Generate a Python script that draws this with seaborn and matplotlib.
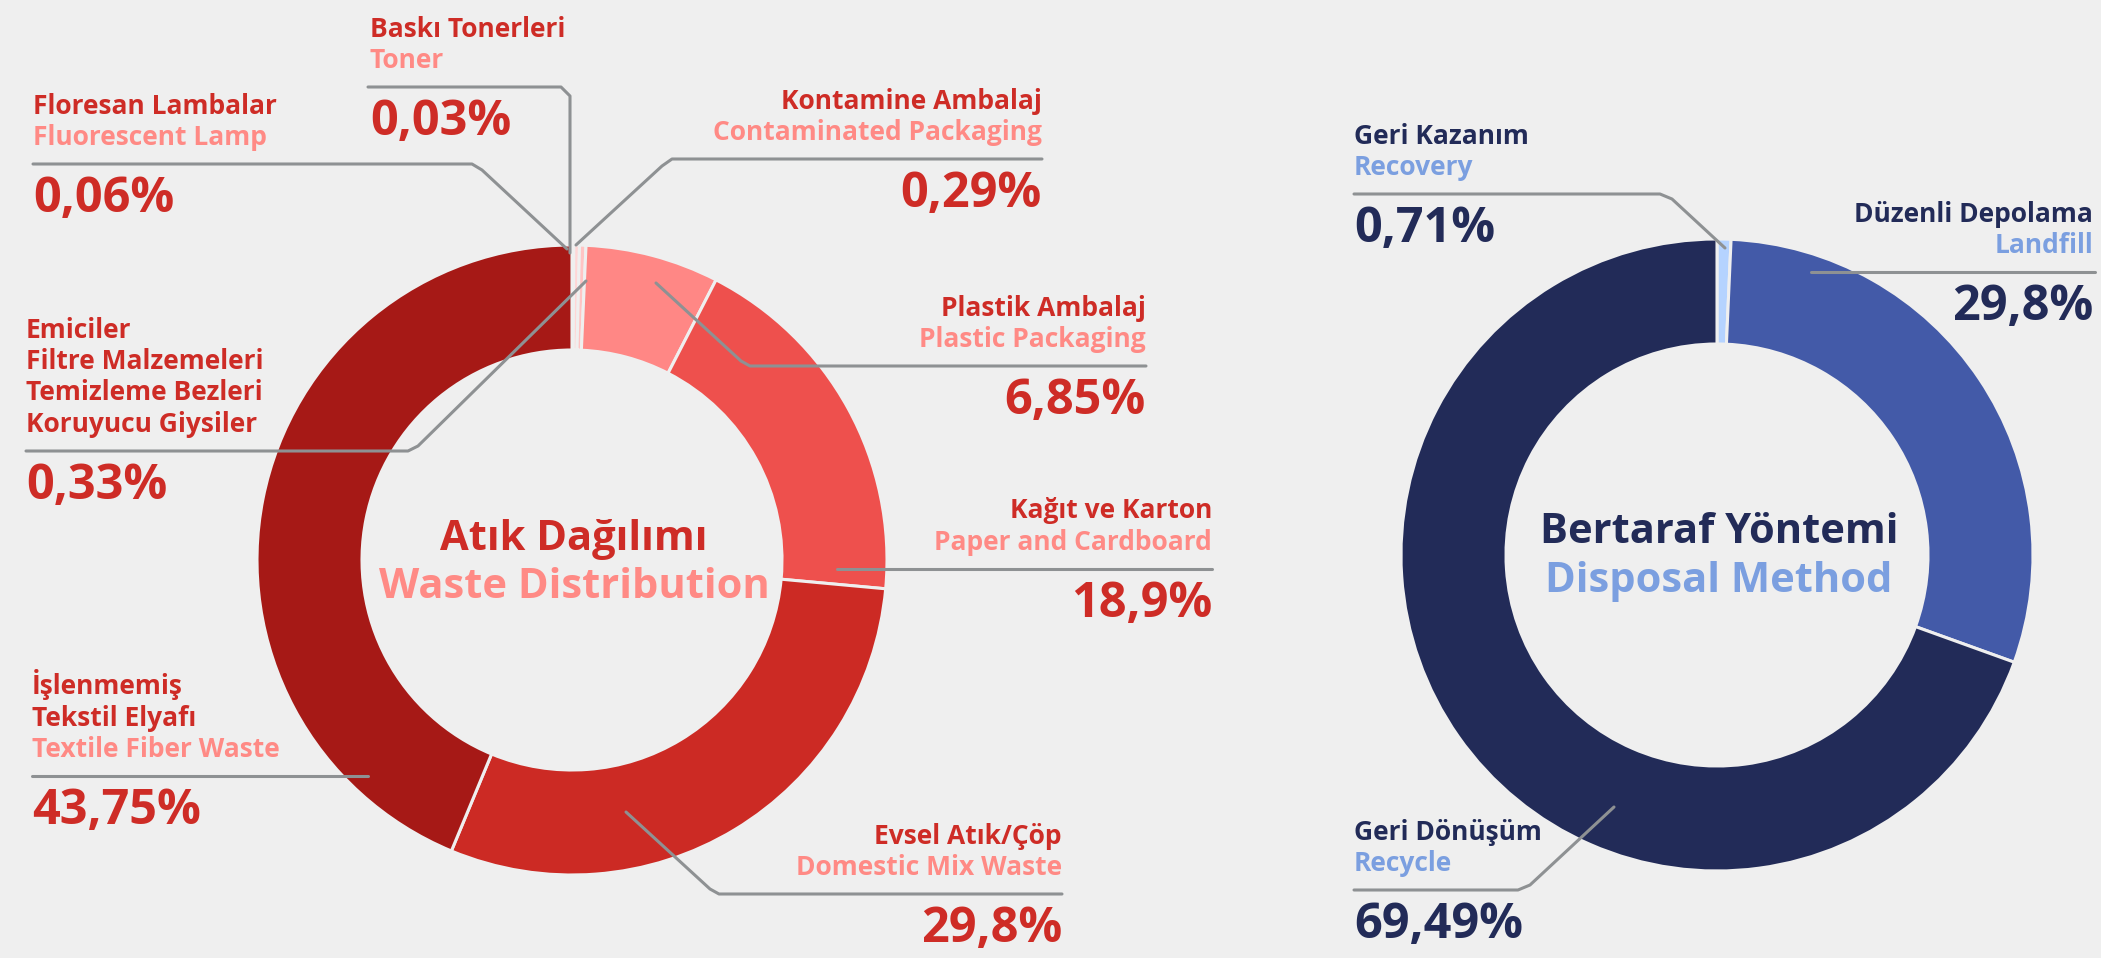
import matplotlib
matplotlib.use("Agg")
import matplotlib.pyplot as plt
import seaborn as sns

# Waste distribution, slices clockwise from 12 o'clock
waste_tr = ["Floresan Lambalar", "Baskı Tonerleri", "Kontamine Ambalaj",
            "Emiciler\nFiltre Malzemeleri\nTemizleme Bezleri\nKoruyucu Giysiler",
            "Plastik Ambalaj", "Kağıt ve Karton", "Evsel Atık/Çöp",
            "İşlenmemiş\nTekstil Elyafı"]
waste_en = ["Fluorescent Lamp", "Toner", "Contaminated Packaging", "",
            "Plastic Packaging", "Paper and Cardboard", "Domestic Mix Waste",
            "Textile Fiber Waste"]
waste_pct = [0.06, 0.03, 0.29, 0.33, 6.85, 18.9, 29.8, 43.75]

# Disposal method, clockwise from 12 o'clock
disposal_tr = ["Geri Kazanım", "Düzenli Depolama", "Geri Dönüşüm"]
disposal_en = ["Recovery", "Landfill", "Recycle"]
disposal_pct = [0.71, 29.8, 69.49]

bg = "#EFEFEF"
waste_colors = sns.color_palette(["#FFEDED", "#FFE3E3", "#FFD6D6", "#FFC4C4",
                                  "#FF8785", "#EE504D", "#CC2A24", "#A61916"])
disposal_colors = sns.color_palette(["#B5D3FF", "#435AA8", "#222B58"])
red, pink = "#CE2C26", "#FF8A85"
navy, sky = "#222B58", "#7B9FE0"
line_col = "#8E9193"

sns.set_theme(style="white", rc={"figure.facecolor": bg, "axes.facecolor": bg})
plt.rcParams["font.family"] = ["Open Sans", "Noto Sans", "DejaVu Sans"]

W, H = 2101, 958
fig = plt.figure(figsize=(W / 100, H / 100), dpi=100)
ax = fig.add_axes([0, 0, 1, 1])

# y axis is inverted below, so start at -90 going counterclock = top, clockwise on screen
wp = dict(width=105, edgecolor=bg, linewidth=2.2)
ax.pie(waste_pct, colors=waste_colors, startangle=-90, counterclock=True,
       center=(572, 560), radius=315, wedgeprops=wp)
ax.pie(disposal_pct, colors=disposal_colors, startangle=-90, counterclock=True,
       center=(1717, 555), radius=316, wedgeprops=wp)

ax.set_xlim(0, W)
ax.set_ylim(H, 0)
ax.set_aspect("equal")
ax.set_axis_off()

# label placement: text x, alignment, leader path (pixels)
waste_layout = [
    (33, "left", [(33, 164), (472, 164), (482, 170), (567, 249)]),
    (370, "left", [(368, 87), (561, 87), (570, 96), (570, 253)]),
    (1042, "right", [(1042, 159), (672, 159), (662, 166), (576, 245)]),
    (26, "left", [(26, 451), (408, 451), (418, 446), (586, 281)]),
    (1146, "right", [(1146, 366), (750, 366), (741, 361), (656, 283)]),
    (1212, "right", [(1212, 569), (837, 569)]),
    (1062, "right", [(1062, 894), (719, 894), (710, 889), (626, 812)]),
    (32, "left", [(32, 776), (368, 776)]),
]
disposal_layout = [
    (1354, "left", [(1354, 194), (1660, 194), (1672, 199), (1725, 248)]),
    (2093, "right", [(2095, 272), (1811, 272)]),
    (1354, "left", [(1354, 890), (1518, 890), (1530, 885), (1614, 807)]),
]


def fmt(v):
    return f"{v:g}".replace(".", ",") + "%"


def add_label(x, ha, path, tr, en, pct, dark, light):
    xs, ys = zip(*path)
    ax.plot(xs, ys, color=line_col, lw=2.2, solid_capstyle="round",
            solid_joinstyle="round", zorder=3)
    rule_y = path[0][1]
    lines = [(t, dark) for t in tr.split("\n")]
    if en:
        lines.append((en, light))
    base = rule_y - 19
    for i, (t, c) in enumerate(reversed(lines)):
        ax.text(x, base - i * 31.5, t, ha=ha, va="baseline", color=c,
                fontsize=19, fontweight="bold")
    ax.text(x, rule_y + 48, fmt(pct), ha=ha, va="baseline", color=dark,
            fontsize=35, fontweight="bold")


for (x, ha, path), tr, en, p in zip(waste_layout, waste_tr, waste_en, waste_pct):
    add_label(x, ha, path, tr, en, p, red, pink)
for (x, ha, path), tr, en, p in zip(disposal_layout, disposal_tr, disposal_en, disposal_pct):
    add_label(x, ha, path, tr, en, p, navy, sky)

# centre titles
ax.text(574, 550, "Atık Dağılımı", ha="center", va="baseline", color=red,
        fontsize=30, fontweight="bold")
ax.text(574, 598, "Waste Distribution", ha="center", va="baseline", color=pink,
        fontsize=30, fontweight="bold")
ax.text(1719, 543, "Bertaraf Yöntemi", ha="center", va="baseline", color=navy,
        fontsize=30, fontweight="bold")
ax.text(1719, 592, "Disposal Method", ha="center", va="baseline", color=sky,
        fontsize=30, fontweight="bold")

fig.savefig("out.png", dpi=100, facecolor=bg)
